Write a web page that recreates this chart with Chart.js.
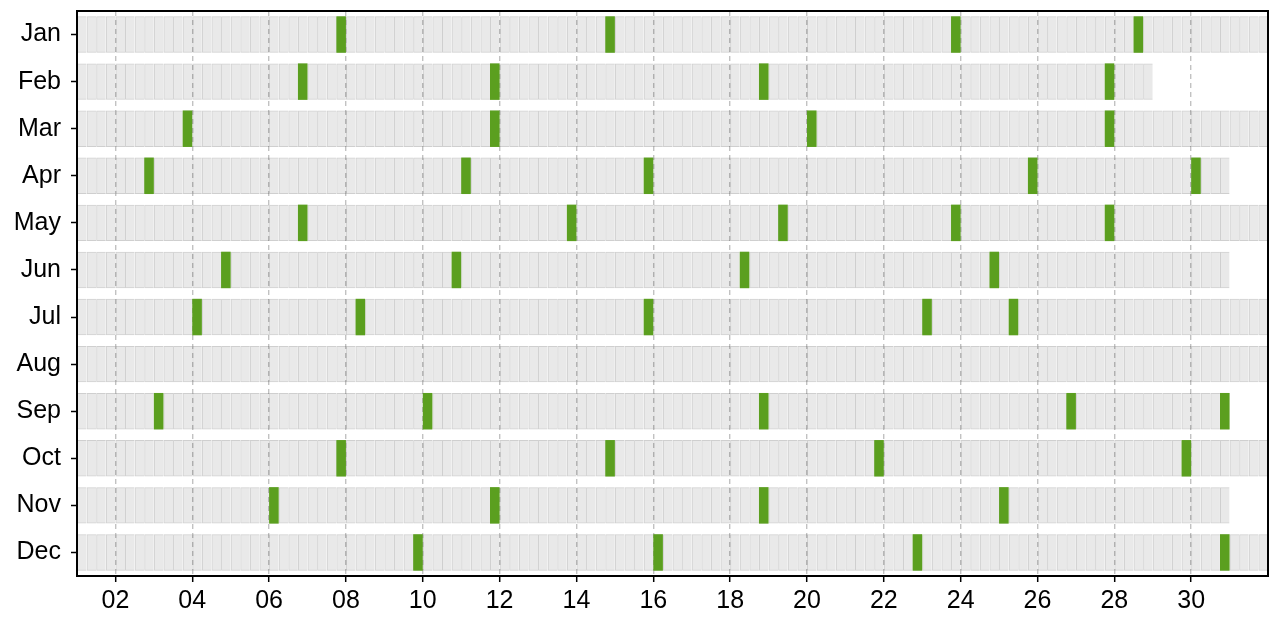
<!DOCTYPE html>
<html>
<head>
<meta charset="utf-8">
<script src="https://cdn.jsdelivr.net/npm/chart.js@4.4.1/dist/chart.umd.min.js"></script>
<style>
  html, body { margin: 0; padding: 0; background: #ffffff; }
  #wrap { width: 1270px; height: 619px; }
</style>
</head>
<body>
<div id="wrap"><canvas id="chart"></canvas></div>
<script>
// Months down the side, days of the month along the bottom, 6-hour slots per day
const MONTHS     = ['Jan', 'Feb', 'Mar', 'Apr', 'May', 'Jun', 'Jul', 'Aug', 'Sep', 'Oct', 'Nov', 'Dec'];
const MONTH_DAYS = [31, 28, 31, 30, 31, 30, 31, 31, 30, 31, 30, 31];
const DAY_TICKS  = ['02', '04', '06', '08', '10', '12', '14', '16', '18', '20', '22', '24', '26', '28', '30'];
const SLOT_HOURS = [0, 6, 12, 18];

// marked slots: [day, starting hour]
const JAN = [[7, 18], [14, 18], [23, 18], [28, 12]];
const FEB = [[6, 18], [11, 18], [18, 18], [27, 18]];
const MAR = [[3, 18], [11, 18], [20, 0], [27, 18]];
const APR = [[2, 18], [11, 0], [15, 18], [25, 18], [30, 0]];
const MAY = [[6, 18], [13, 18], [19, 6], [23, 18], [27, 18]];
const JUN = [[4, 18], [10, 18], [18, 6], [24, 18]];
const JUL = [[4, 0], [8, 6], [15, 18], [23, 0], [25, 6]];
const AUG = [];
const SEP = [[3, 0], [10, 0], [18, 18], [26, 18], [30, 18]];
const OCT = [[7, 18], [14, 18], [21, 18], [29, 18]];
const NOV = [[6, 0], [11, 18], [18, 18], [25, 0]];
const DEC = [[9, 18], [16, 0], [22, 18], [30, 18]];
const MARKS = [JAN, FEB, MAR, APR, MAY, JUN, JUL, AUG, SEP, OCT, NOV, DEC];

// cells are see-through so the dashed day grid shows under them but not under the marks
const CELL_FILL   = 'rgba(0,0,0,0.085)';
const CELL_LINE   = 'rgba(0,0,0,0.19)';
const MARK_COLOR  = '#5b9f1f';
const FONT        = 'Liberation Sans, Arial, sans-serif';

const slot = (day, hour) => [day + hour / 24, day + (hour + 6) / 24];

const cells = [];
MONTHS.forEach((m, i) => {
  for (let d = 1; d <= MONTH_DAYS[i]; d++) {
    SLOT_HOURS.forEach(h => cells.push({ y: m, x: slot(d, h) }));
  }
});

const marks = [];
MONTHS.forEach((m, i) => {
  MARKS[i].forEach(([d, h]) => marks.push({ y: m, x: slot(d, h) }));
});

const frame = {
  id: 'frame',
  afterDraw(chart) {
    const { ctx, chartArea: a } = chart;
    ctx.save();
    ctx.strokeStyle = '#000';
    ctx.lineWidth = 2;
    ctx.strokeRect(a.left, a.top, a.right - a.left, a.bottom - a.top);
    ctx.restore();
  },
};

new Chart(document.getElementById('chart'), {
  type: 'bar',
  data: {
    labels: MONTHS,
    datasets: [
      {
        label: 'marked',
        data: marks,
        order: 0,
        grouped: false,
        backgroundColor: MARK_COLOR,
        borderWidth: 0,
      },
      {
        label: 'slots',
        data: cells,
        order: 1,
        grouped: false,
        backgroundColor: CELL_FILL,
        borderColor: CELL_LINE,
        borderWidth: { left: 1, right: 0, top: 1, bottom: 1 },
        borderSkipped: false,
        inflateAmount: 0,
      },
    ],
  },
  options: {
    indexAxis: 'y',
    responsive: true,
    maintainAspectRatio: false,
    animation: false,
    events: [],
    categoryPercentage: 1,
    barPercentage: 0.775,
    layout: { padding: { top: 11, right: 2, left: 0, bottom: 0 } },
    plugins: {
      legend: { display: false },
      tooltip: { enabled: false },
    },
    scales: {
      x: {
        type: 'linear',
        min: 1,
        max: 32,
        afterBuildTicks: s => { s.ticks = DAY_TICKS.map(t => ({ value: Number(t) })); },
        afterFit: s => { s.height = 43; s.paddingLeft = 0; s.paddingRight = 0; },
        ticks: {
          color: '#000',
          font: { family: FONT, size: 25 },
          padding: 4,
          maxRotation: 0,
          autoSkip: false,
          callback: v => String(v).padStart(2, '0'),
        },
        grid: {
          color: 'rgba(110,110,110,0.42)',
          lineWidth: 1.4,
          drawTicks: true,
          tickLength: 6,
          tickColor: '#000',
          tickWidth: 1.5,
          tickBorderDash: [],
        },
        border: { display: false, dash: [5, 4] },
      },
      y: {
        type: 'category',
        offset: true,
        afterFit: s => { s.width = 77; s.paddingTop = 0; s.paddingBottom = 0; },
        ticks: {
          color: '#000',
          font: { family: FONT, size: 25 },
          padding: 10,
        },
        grid: {
          offset: false,
          drawOnChartArea: false,
          drawTicks: true,
          tickLength: 6,
          tickColor: '#000',
          tickWidth: 1.5,
        },
        border: { display: false },
      },
    },
  },
  plugins: [frame],
});
</script>
</body>
</html>
